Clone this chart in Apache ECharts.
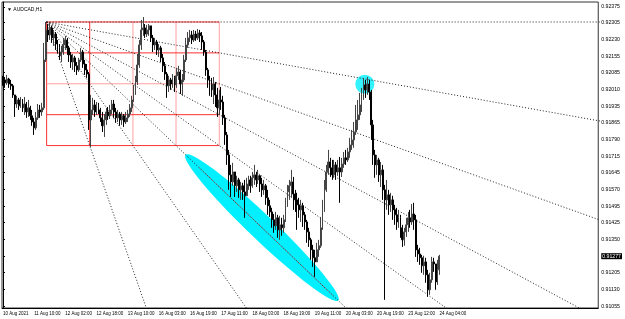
<!DOCTYPE html>
<html><head><meta charset="utf-8">
<script src="https://cdn.jsdelivr.net/npm/echarts@6/dist/echarts.min.js"></script>
<style>html,body{margin:0;padding:0;background:#fff}#c{width:625px;height:319px}</style>
</head><body><div id="c"></div>
<script>
// ---- data (AUDCAD H1) ----
const firstOpen = 0.92066;
const closes = [0.92053,0.92040,0.92057,0.92035,0.92027,0.91987,0.91947,0.91965,0.91939,0.91956,
0.91930,0.91947,0.91912,0.91930,0.91895,0.91868,0.91842,0.91886,0.91921,0.91912,
0.91930,0.92141,0.92273,0.92251,0.92282,0.92238,0.92255,0.92211,0.92194,0.92159,
0.92176,0.92207,0.92229,0.92194,0.92163,0.92132,0.92150,0.92115,0.92097,0.92141,
0.92176,0.92123,0.92097,0.92079,0.91877,0.91921,0.91943,0.91912,0.91939,0.91921,
0.91886,0.91851,0.91877,0.91912,0.91895,0.91921,0.91947,0.91912,0.91886,0.91903,
0.91877,0.91895,0.91868,0.91886,0.91903,0.91930,0.91965,0.92000,0.92044,0.92119,
0.92207,0.92273,0.92282,0.92255,0.92273,0.92291,0.92238,0.92207,0.92220,0.92185,
0.92194,0.92150,0.92115,0.92079,0.92027,0.92053,0.92035,0.92062,0.92031,0.92071,
0.92088,0.92035,0.92053,0.92141,0.92207,0.92238,0.92251,0.92229,0.92255,0.92238,
0.92260,0.92247,0.92220,0.92176,0.92097,0.92053,0.92031,0.92009,0.92035,0.91987,
0.91930,0.91965,0.91956,0.91886,0.91811,0.91723,0.91635,0.91604,0.91648,0.91587,
0.91613,0.91569,0.91587,0.91560,0.91543,0.91595,0.91613,0.91587,0.91622,0.91635,
0.91613,0.91631,0.91595,0.91569,0.91587,0.91534,0.91499,0.91472,0.91437,0.91411,
0.91446,0.91393,0.91415,0.91402,0.91437,0.91503,0.91560,0.91587,0.91604,0.91551,
0.91525,0.91503,0.91481,0.91499,0.91459,0.91428,0.91384,0.91349,0.91305,0.91270,
0.91252,0.91305,0.91323,0.91402,0.91481,0.91569,0.91648,0.91692,0.91666,0.91635,
0.91679,0.91648,0.91666,0.91648,0.91683,0.91710,0.91701,0.91736,0.91767,0.91789,
0.91824,0.91877,0.91899,0.91943,0.91987,0.92031,0.92009,0.92035,0.92000,0.91855,
0.91723,0.91679,0.91701,0.91635,0.91657,0.91569,0.91525,0.91547,0.91503,0.91525,
0.91481,0.91459,0.91428,0.91446,0.91402,0.91349,0.91384,0.91415,0.91446,0.91428,
0.91463,0.91437,0.91305,0.91287,0.91270,0.91235,0.91252,0.91195,0.91129,0.91173,
0.91252,0.91243,0.91164,0.91217,0.91277];
const highs = [0.92071,0.92066,0.92075,0.92062,0.92053,0.92035,0.91987,0.91983,0.91974,0.91978,
0.91969,0.91978,0.91956,0.91965,0.91939,0.91921,0.91886,0.91912,0.91947,0.91943,
0.91952,0.92216,0.92308,0.92299,0.92304,0.92291,0.92273,0.92264,0.92229,0.92211,
0.92203,0.92238,0.92247,0.92238,0.92203,0.92176,0.92167,0.92159,0.92132,0.92150,
0.92194,0.92185,0.92141,0.92123,0.92088,0.91987,0.91974,0.91965,0.91956,0.91952,
0.91930,0.91912,0.91903,0.91930,0.91934,0.91943,0.91965,0.91965,0.91930,0.91921,
0.91912,0.91912,0.91903,0.91912,0.91921,0.91947,0.91983,0.92031,0.92071,0.92163,
0.92229,0.92317,0.92330,0.92299,0.92295,0.92299,0.92282,0.92251,0.92238,0.92229,
0.92211,0.92203,0.92167,0.92132,0.92088,0.92071,0.92062,0.92079,0.92071,0.92106,
0.92115,0.92097,0.92079,0.92163,0.92238,0.92264,0.92273,0.92269,0.92273,0.92269,
0.92277,0.92273,0.92264,0.92229,0.92185,0.92106,0.92071,0.92062,0.92066,0.92044,
0.92018,0.92009,0.92022,0.91983,0.91899,0.91824,0.91745,0.91679,0.91688,0.91648,
0.91631,0.91622,0.91604,0.91600,0.91613,0.91622,0.91631,0.91631,0.91648,0.91679,
0.91648,0.91657,0.91635,0.91622,0.91613,0.91595,0.91569,0.91525,0.91490,0.91463,
0.91472,0.91459,0.91455,0.91446,0.91459,0.91534,0.91591,0.91613,0.91657,0.91626,
0.91569,0.91556,0.91534,0.91525,0.91512,0.91472,0.91437,0.91402,0.91358,0.91327,
0.91305,0.91336,0.91349,0.91450,0.91525,0.91613,0.91679,0.91745,0.91710,0.91701,
0.91701,0.91692,0.91701,0.91714,0.91710,0.91736,0.91745,0.91754,0.91798,0.91833,
0.91868,0.91943,0.91965,0.91996,0.92018,0.92062,0.92053,0.92066,0.92053,0.92009,
0.91877,0.91745,0.91723,0.91710,0.91692,0.91679,0.91591,0.91613,0.91569,0.91556,
0.91543,0.91503,0.91490,0.91481,0.91459,0.91415,0.91402,0.91446,0.91472,0.91481,
0.91507,0.91512,0.91459,0.91327,0.91314,0.91283,0.91279,0.91270,0.91217,0.91204,
0.91274,0.91270,0.91239,0.91261,0.91283];
const lows = [0.92027,0.92018,0.92031,0.92018,0.92009,0.91974,0.91890,0.91930,0.91921,0.91930,
0.91912,0.91899,0.91886,0.91890,0.91877,0.91851,0.91811,0.91833,0.91877,0.91886,
0.91895,0.91921,0.92132,0.92220,0.92229,0.92216,0.92203,0.92185,0.92172,0.92141,
0.92132,0.92163,0.92185,0.92163,0.92132,0.92106,0.92097,0.92088,0.92075,0.92088,
0.92132,0.92106,0.92075,0.92062,0.91833,0.91758,0.91899,0.91890,0.91899,0.91903,
0.91868,0.91824,0.91802,0.91855,0.91877,0.91881,0.91903,0.91886,0.91864,0.91868,
0.91851,0.91855,0.91846,0.91859,0.91868,0.91890,0.91912,0.91956,0.91987,0.92031,
0.92106,0.92185,0.92247,0.92238,0.92242,0.92247,0.92220,0.92176,0.92185,0.92163,
0.92154,0.92132,0.92088,0.92053,0.91974,0.92000,0.92009,0.92018,0.92000,0.92018,
0.92053,0.91991,0.91983,0.92044,0.92132,0.92194,0.92220,0.92211,0.92220,0.92225,
0.92229,0.92220,0.92185,0.92159,0.92071,0.92018,0.91983,0.91978,0.91947,0.91934,
0.91890,0.91899,0.91921,0.91855,0.91767,0.91679,0.91569,0.91538,0.91587,0.91538,
0.91560,0.91534,0.91525,0.91525,0.91446,0.91547,0.91569,0.91556,0.91578,0.91591,
0.91582,0.91595,0.91560,0.91538,0.91547,0.91503,0.91459,0.91450,0.91402,0.91380,
0.91393,0.91358,0.91349,0.91367,0.91380,0.91428,0.91494,0.91525,0.91534,0.91481,
0.91472,0.91393,0.91446,0.91428,0.91406,0.91393,0.91336,0.91318,0.91261,0.91230,
0.91186,0.91270,0.91274,0.91314,0.91393,0.91472,0.91560,0.91635,0.91626,0.91613,
0.91622,0.91613,0.91631,0.91512,0.91626,0.91666,0.91679,0.91692,0.91710,0.91745,
0.91754,0.91811,0.91833,0.91877,0.91912,0.91965,0.91974,0.91987,0.91965,0.91789,
0.91679,0.91622,0.91635,0.91604,0.91582,0.91525,0.91085,0.91481,0.91459,0.91472,
0.91437,0.91415,0.91393,0.91402,0.91358,0.91318,0.91323,0.91362,0.91384,0.91402,
0.91415,0.91393,0.91274,0.91252,0.91239,0.91204,0.91195,0.91160,0.91098,0.91107,
0.91160,0.91208,0.91129,0.91151,0.91195];

const xTickLabels = ['10 Aug 2021','11 Aug 10:00','12 Aug 02:00','12 Aug 18:00','13 Aug 10:00',
  '16 Aug 03:00','16 Aug 19:00','17 Aug 11:00','18 Aug 03:00','18 Aug 19:00','19 Aug 11:00',
  '20 Aug 03:00','20 Aug 19:00','23 Aug 12:00','24 Aug 04:00'];
const barsPerTick = 16;
const slotCount = 306;
const yTickValues = [0.92375,0.92305,0.92230,0.92155,0.92085,0.92010,0.91935,0.91865,0.91790,
  0.91715,0.91645,0.91570,0.91495,0.91425,0.91350,0.91277,0.91205,0.91130,0.91055];
const lastPrice = 0.91277;
const priceMin = 0.91049, priceMax = 0.92396;

// drawn objects (bar index, price)
const gannTimes = [22.4, 44.5, 66.7, 88.8, 111];
const gannPrices = [0.92308, 0.92172, 0.92036, 0.91900, 0.91764];
const fanOrigin = [22.4, 0.92308];
const fanTargets = [[111,0.92308],[111,0.92172],[111,0.92036],[111,0.91900],[111,0.91764],
  [88.8,0.91764],[66.7,0.91764],[44.5,0.91764]];
const redSegment = [[100.8,0.91666],[169.6,0.91102]];
const ellipseEnds = [[93.7,0.91724],[172.1,0.91082]];
const circleCenter = [185.7, 0.92034];

// ---- build ----
const cats = Array.from({length: slotCount}, (_, i) => String(i));
const candles = closes.map((c, i) => {
  const o = i === 0 ? firstOpen : closes[i - 1];
  return [o, c, Math.min(lows[i], o, c), Math.max(highs[i], o, c)];
});
const series = [];
series.push({
  type: 'custom', xAxisIndex: 1, yAxisIndex: 0, z: 1, silent: true, clip: true,
  data: [0],
  renderItem: function (params, api) {
    const a = api.coord(ellipseEnds[0]), b = api.coord(ellipseEnds[1]);
    const cx = (a[0] + b[0]) / 2, cy = (a[1] + b[1]) / 2;
    const rx = Math.hypot(b[0] - a[0], b[1] - a[1]) / 2, ry = 12.5;
    const ang = Math.atan2(b[1] - a[1], b[0] - a[0]);
    const pts = [];
    for (let k = 0; k < 72; k++) {
      const t = k / 72 * Math.PI * 2;
      const ex = rx * Math.cos(t), ey = ry * Math.sin(t);
      pts.push([cx + ex * Math.cos(ang) - ey * Math.sin(ang), cy + ex * Math.sin(ang) + ey * Math.cos(ang)]);
    }
    return {type: 'polygon', shape: {points: pts}, style: {fill: '#00f0ff'}};
  }
});
series.push({type: 'scatter', xAxisIndex: 1, yAxisIndex: 0, z: 1, silent: true,
  symbol: 'circle', symbolSize: 19, itemStyle: {color: '#00f0ff'}, data: [circleCenter]});
const vCols = ['#ff3030', '#ff3030', '#ffa0a0', '#ffa0a0', '#ffa0a0'];
const hCols = ['#ff3030', '#ff3030', '#ffa0a0', '#ff3030', '#ff3030'];
gannTimes.forEach((t, k) => series.push({type: 'line', xAxisIndex: 1, z: 2, silent: true, showSymbol: false,
  lineStyle: {color: vCols[k], width: 1}, data: [[t, gannPrices[0]], [t, gannPrices[4]]]}));
gannPrices.forEach((p, k) => series.push({type: 'line', xAxisIndex: 1, z: 2, silent: true, showSymbol: false,
  lineStyle: {color: hCols[k], width: 1}, data: [[gannTimes[0], p], [gannTimes[4], p]]}));
fanTargets.forEach(tg => {
  const far = [fanOrigin[0] + (tg[0] - fanOrigin[0]) * 20, fanOrigin[1] + (tg[1] - fanOrigin[1]) * 20];
  series.push({type: 'line', xAxisIndex: 1, z: 3, silent: true, showSymbol: false, clip: true,
    lineStyle: {color: '#222', width: 1, type: [1, 2]}, data: [fanOrigin, far]});
});
series.push({type: 'line', xAxisIndex: 1, z: 3, silent: true, showSymbol: false,
  lineStyle: {color: '#ff2020', width: 1, type: [1, 2]}, data: redSegment});
series.push({
  type: 'candlestick', xAxisIndex: 0, yAxisIndex: 0, z: 4, barWidth: 1.4,
  itemStyle: {color: '#444', color0: '#000', borderColor: '#444', borderColor0: '#000', borderWidth: 1},
  data: candles,
  markLine: {silent: true, symbol: 'none', label: {show: false},
    lineStyle: {color: '#c4c8cc', width: 1.5, type: 'solid'}, data: [{yAxis: lastPrice}]}
});

const chart = echarts.init(document.getElementById('c'), null, {renderer: 'canvas'});
chart.setOption({
  animation: false,
  backgroundColor: '#fff',
  title: {text: '\u25BC AUDCAD,H1', left: 2, top: 2,
    textStyle: {fontSize: 5, fontWeight: 'normal', color: '#000', fontFamily: 'Liberation Sans'}},
  grid: {left: 1, right: 23, top: 2, bottom: 11, show: true, borderColor: '#333', borderWidth: 1},
  xAxis: [{
    type: 'category', data: cats, boundaryGap: true,
    axisLine: {lineStyle: {color: '#000', width: 1}},
    axisTick: {alignWithLabel: true, length: 2, lineStyle: {color: '#000'},
      interval: (i) => i % barsPerTick === 0 && i / barsPerTick < xTickLabels.length},
    axisLabel: {interval: (i) => i % barsPerTick === 0 && i / barsPerTick < xTickLabels.length,
      formatter: (v, i) => xTickLabels[i / barsPerTick] || '',
      align: 'left', margin: 3, fontSize: 4.5, color: '#000', fontFamily: 'Liberation Sans'},
    splitLine: {show: false}
  }, {
    type: 'value', min: -0.5, max: slotCount - 0.5, show: false
  }],
  yAxis: [{
    type: 'value', position: 'right', min: priceMin, max: priceMax, scale: true,
    axisLine: {show: true, lineStyle: {color: '#000', width: 1}},
    axisTick: {show: true, length: 2, lineStyle: {color: '#000'}, customValues: yTickValues},
    axisLabel: {customValues: yTickValues, margin: 3, fontSize: 5.2, color: '#000', fontFamily: 'Liberation Sans',
      formatter: (v) => Math.abs(v - lastPrice) < 1e-7 ? '{cur|' + v.toFixed(5) + '}' : v.toFixed(5),
      rich: {cur: {backgroundColor: '#000', color: '#fff', fontSize: 5.2, padding: [1, 1, 0, 1], fontFamily: 'Liberation Sans'}}},
    splitLine: {show: false}
  }],
  series: series
});
</script></body></html>
